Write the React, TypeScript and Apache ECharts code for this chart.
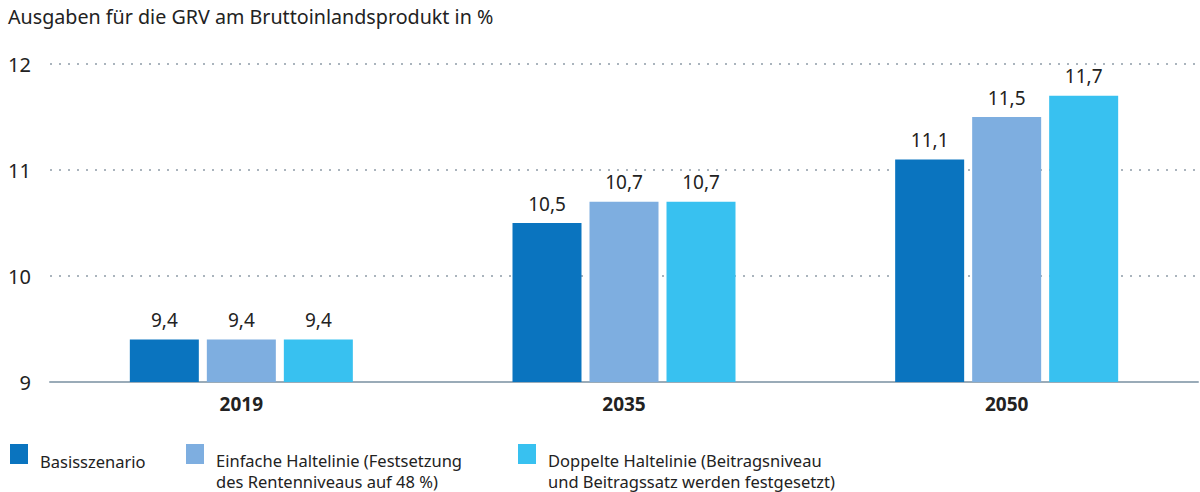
import React, { useEffect, useRef } from "react";
import * as echarts from "echarts";

const title = "Ausgaben für die GRV am Bruttoinlandsprodukt in %";
const categories = ["2019", "2035", "2050"];
const seriesNames = [
  "Basisszenario",
  "Einfache Haltelinie (Festsetzung\ndes Rentenniveaus auf 48 %)",
  "Doppelte Haltelinie (Beitragsniveau\nund Beitragssatz werden festgesetzt)",
];
const basis = [9.4, 10.5, 11.1];
const einfach = [9.4, 10.7, 11.5];
const doppelt = [9.4, 10.7, 11.7];
const colors = ["#0a74bf", "#7eaee0", "#38c1f0"];
const legendLefts = [10, 186, 518];
// icon box heights: single-line vs two-line legend text
const legendBoxHeights = [34, 54, 54];

const FONT = "Noto Sans";

export default function App() {
  const ref = useRef<HTMLDivElement>(null);
  useEffect(() => {
    if (!ref.current) return;
    const chart = echarts.init(ref.current, null, { renderer: "svg" });
    const values = [basis, einfach, doppelt];
    chart.setOption({
      animation: false,
      backgroundColor: "#ffffff",
      textStyle: { fontFamily: FONT },
      title: {
        text: title,
        left: 8,
        top: 6,
        padding: 0,
        textStyle: { fontFamily: FONT, fontSize: 19.7, fontWeight: "normal", color: "#222" },
      },
      legend: seriesNames.map((n, i) => ({
        data: [n],
        left: legendLefts[i],
        top: 444,
        padding: 0,
        itemWidth: 18,
        itemHeight: legendBoxHeights[i],
        icon: `path://M0 0H18V20H0Z M0 ${legendBoxHeights[i]}L0.001 ${legendBoxHeights[i]}`,
        selectedMode: false,
        textStyle: {
          fontFamily: FONT,
          fontSize: 16.5,
          color: "#222",
          lineHeight: 21,
          padding: [0, 0, 0, 7],
        },
      })),
      grid: { left: 50, right: 2, top: 64, bottom: 110 },
      xAxis: {
        type: "category",
        data: categories,
        axisTick: { show: false },
        axisLine: { lineStyle: { color: "#9aabb8", width: 2 } },
        axisLabel: {
          margin: 12,
          fontFamily: FONT,
          fontSize: 19,
          fontWeight: "bold",
          color: "#222",
        },
      },
      yAxis: {
        type: "value",
        min: 9,
        max: 12,
        interval: 1,
        axisLine: { show: false },
        axisTick: { show: false },
        axisLabel: { margin: 19, fontFamily: FONT, fontSize: 20, color: "#222" },
        splitLine: { lineStyle: { color: "#aab4bd", type: [2, 7], width: 2 } },
      },
      series: values.map((v, i) => ({
        name: seriesNames[i],
        type: "bar",
        data: v,
        barWidth: 69,
        barGap: "11.6%",
        itemStyle: { color: colors[i] },
        label: {
          show: true,
          position: "top",
          distance: 10,
          fontFamily: FONT,
          fontSize: 19,
          color: "#222",
          formatter: (p: any) => String(p.value).replace(".", ","),
        },
      })),
    });
    return () => chart.dispose();
  }, []);
  return (
    <div
      ref={ref}
      style={{ position: "fixed", left: 0, top: 0, width: 1200, height: 492 }}
    />
  );
}
